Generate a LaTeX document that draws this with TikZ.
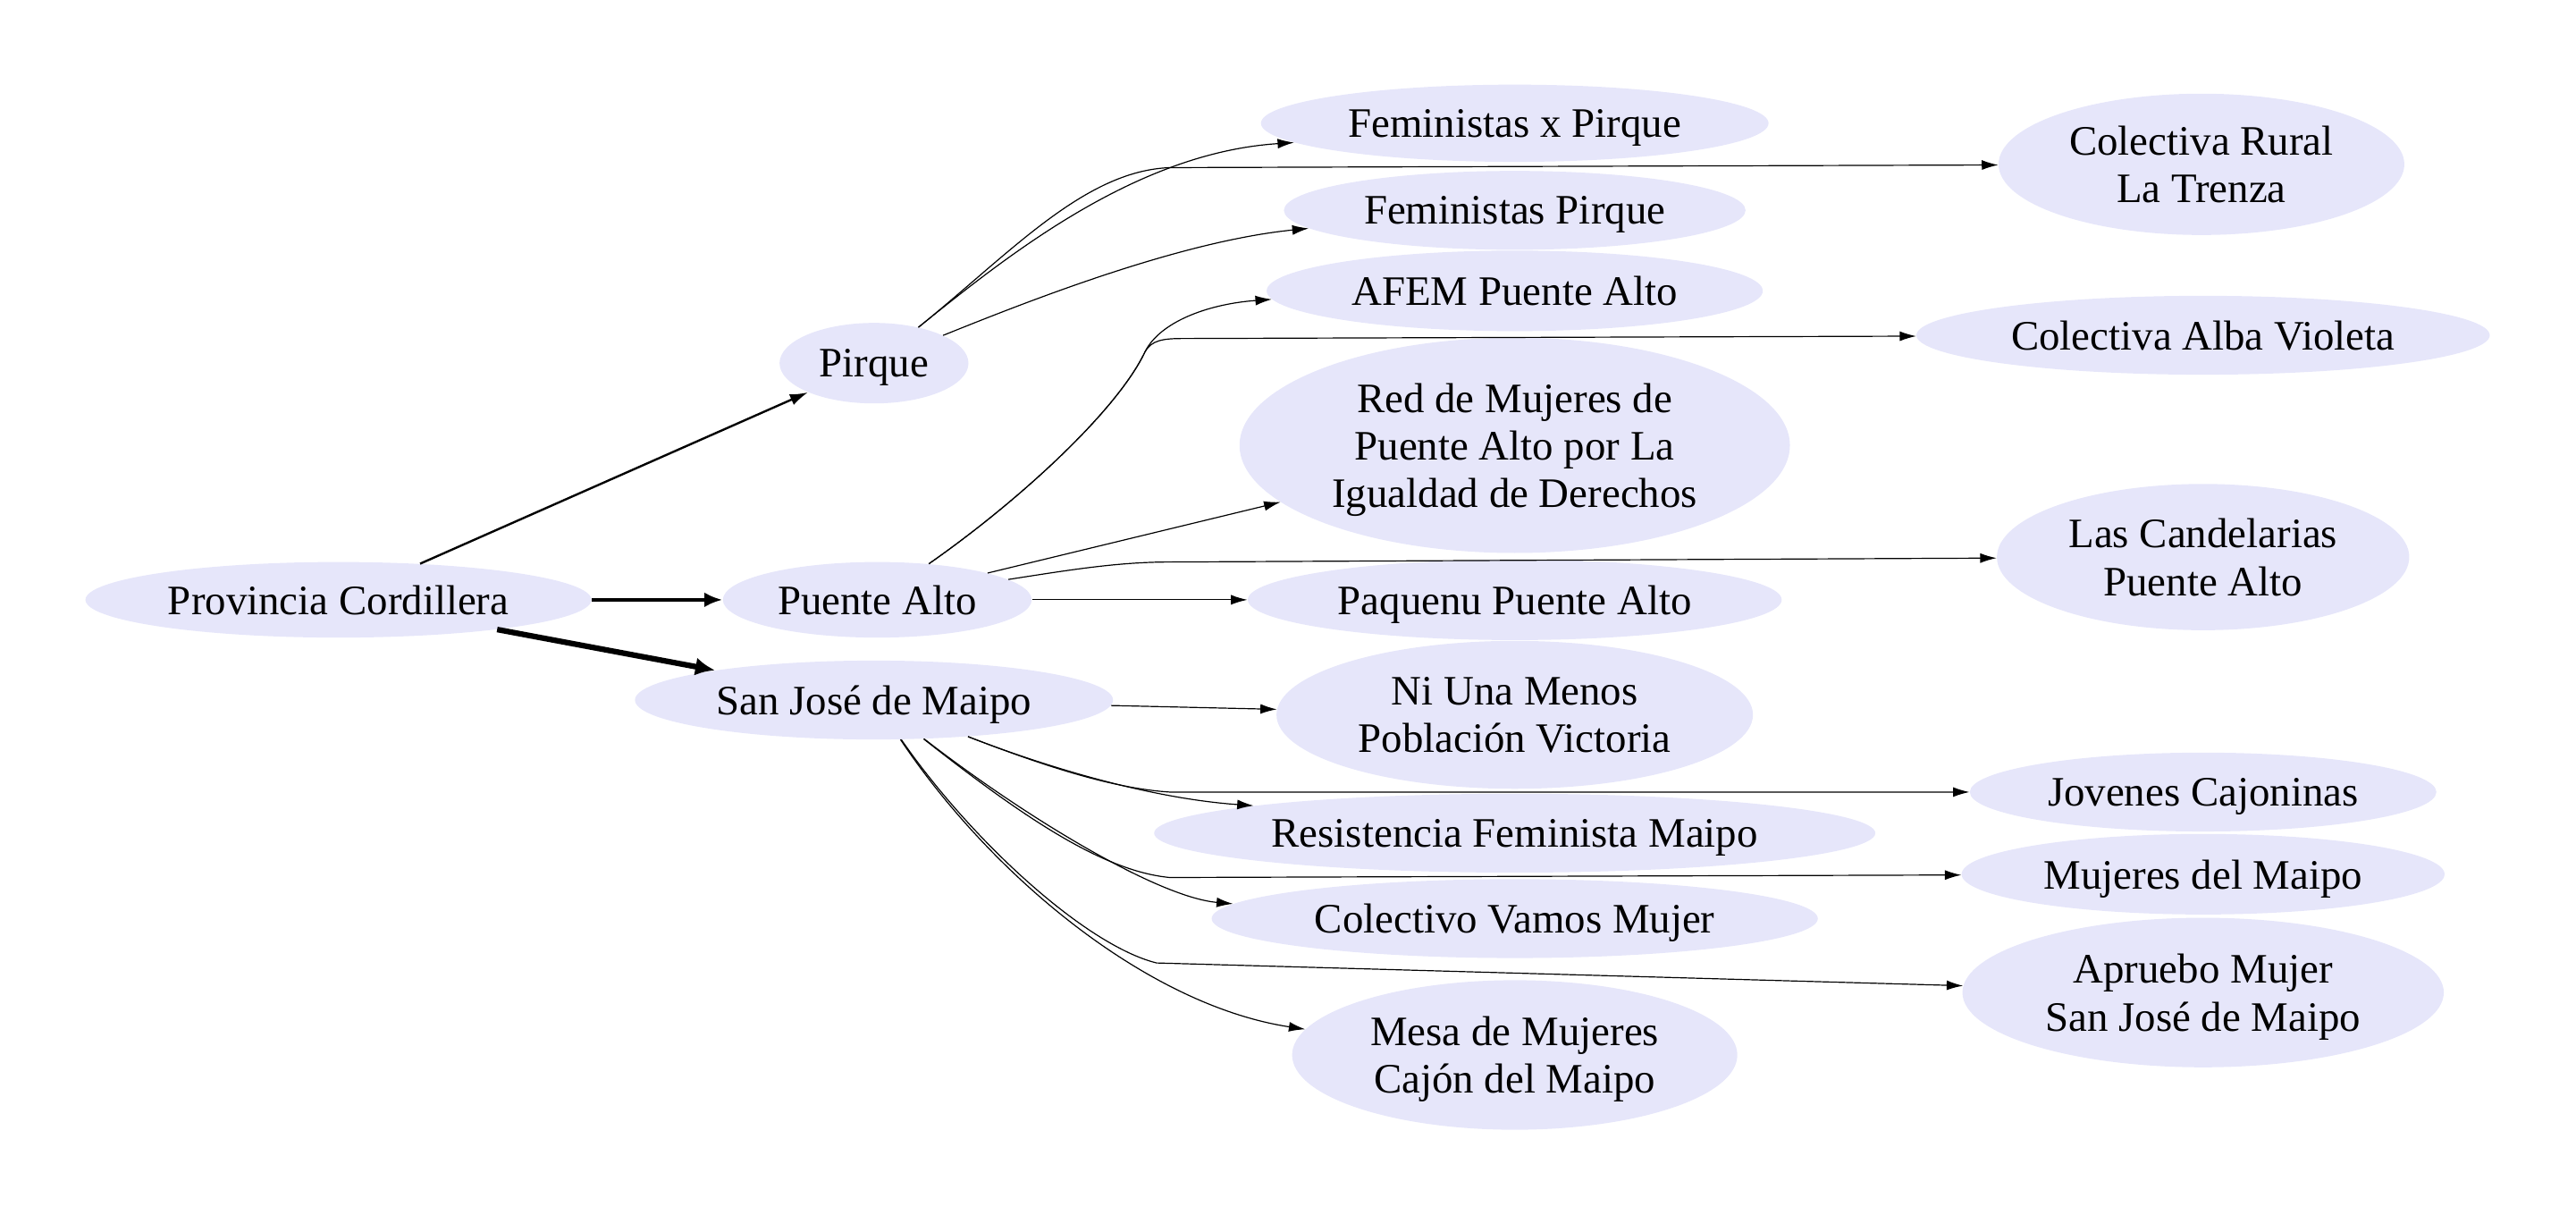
\documentclass[tikz,border=0pt]{standalone}
\usepackage{fontspec}
\setmainfont{Liberation Serif}
\usepackage{tikz}
\usetikzlibrary{shapes,
                arrows.meta,
                positioning}
\definecolor{lavender}{HTML}{E6E6FA}
\tikzset{org/.style=
   {ellipse,
    fill=lavender,
    inner sep=0pt,
    text depth=0pt,
    align=center,
    font=\fontsize{25.5}{29}\selectfont}}
\tikzset{dims/.style 2 args={minimum width=#1pt, minimum height=#2pt}}
\tikzset{arrow/.style = {draw, line width=0.65pt, -{Latex[length=10pt,width=6pt]}}}
\tikzset{pen2/.style = {line width=1.3pt, -{Latex[length=11pt,width=7pt]}}}
\tikzset{pen4/.style = {line width=2.5pt, -{Latex[length=11pt,width=9pt]}}}
\tikzset{pen5/.style = {line width=3.4pt, -{Latex[length=12pt,width=11pt]}}}

\begin{document}
\begin{tikzpicture}[x=1pt, y=-1pt]
    \useasboundingbox (0,0) rectangle (1568,739);

    % Provincia and comunas
    \node [org, dims={308}{46}] (prov) at (206,365) {Provincia Cordillera};
    \node [org, dims={115}{49}] (pirque) at (532,221) {Pirque};
    \node [org, dims={188}{46}] (puente) at (534,365) {Puente Alto};
    \node [org, dims={291}{48}] (sanjose) at (532,426) {San José de Maipo};

    % Middle column
    \node [org, dims={309}{47}] (fxpirque) at (922,75) {Feministas x Pirque};
    \node [org, dims={281}{48}] (fpirque) at (922,128) {Feministas Pirque};
    \node [org, dims={302}{49}] (afem) at (922,177) {AFEM Puente Alto};
    \node [org, dims={335}{131}] (redmujeres) at (922,271)
        {Red de Mujeres de\\Puente Alto por La\\Igualdad de Derechos};
    \node [org, dims={325}{49}] (paquenu) at (922,365) {Paquenu Puente Alto};
    \node [org, dims={290}{90}] (niuna) at (922,435) {Ni Una Menos\\Población Victoria};
    \node [org, dims={439}{48}] (resistencia) at (922,507) {Resistencia Feminista Maipo};
    \node [org, dims={369}{48}] (vamos) at (922,559) {Colectivo Vamos Mujer};
    \node [org, dims={271}{91}] (mesa) at (922,642) {Mesa de Mujeres\\Cajón del Maipo};

    % Right column
    \node [org, dims={247}{86}] (trenza) at (1340,100) {Colectiva Rural\\La Trenza};
    \node [org, dims={349}{48}] (albav) at (1341,204) {Colectiva Alba Violeta};
    \node [org, dims={251}{89}] (candelarias) at (1341,339) {Las Candelarias\\Puente Alto};
    \node [org, dims={284}{48}] (jovenes) at (1341,482) {Jovenes Cajoninas};
    \node [org, dims={294}{49}] (mujmaipo) at (1341,532) {Mujeres del Maipo};
    \node [org, dims={293}{91}] (apruebo) at (1341,604) {Apruebo Mujer\\San José de Maipo};

    % Draw edges

    \path [arrow, pen2] (prov) -- (pirque);
    \path [arrow, pen4] (prov) -- (puente);
    \path [arrow, pen5] (prov) -- (sanjose);

    \path [arrow]
    (pirque) .. controls (615,154) and (692,93) .. (fxpirque.185);
    \path [arrow]
    (pirque) .. controls (615,154) and (660,104) .. (712,102) -- (trenza);
    \path [arrow]
    (pirque) .. controls (624,184) and (717,147) .. (fpirque.185);

    \path [arrow]
    (puente) .. controls (620,305) and (680,250) .. (697,214)
             .. controls (706,196) and (735,185) .. (afem.182);
    \path [arrow]
    (puente) .. controls (620,305) and (680,250) .. (697,214)
             .. controls (701,207) and (708,206) .. (720,206) -- (albav);
    \path [arrow] (puente) -- (redmujeres);
    \path [arrow]
    (puente) .. controls (650,347) and (680,342) .. (712,342) -- (candelarias);
    \path [arrow] (puente) -- (paquenu);

    \path [arrow] (sanjose) -- (niuna);
    \path [arrow]
    (sanjose) .. controls (640,468) and (702,486) .. (resistencia.174);
    \path [arrow]
    (sanjose) .. controls (640,468) and (680,480) .. (712,482) -- (jovenes);
    \path [arrow]
    (sanjose) .. controls (625,498) and (705,546) .. (vamos.177);
    \path [arrow]
    (sanjose) .. controls (620,495) and (670,530) .. (712,534) -- (mujmaipo);
    \path [arrow]
    (sanjose) .. controls (590,510) and (660,575) .. (704,586) -- (apruebo);
    \path [arrow]
    (sanjose) .. controls (605,535) and (700,612) .. (mesa.173);

\end{tikzpicture}
\end{document}
